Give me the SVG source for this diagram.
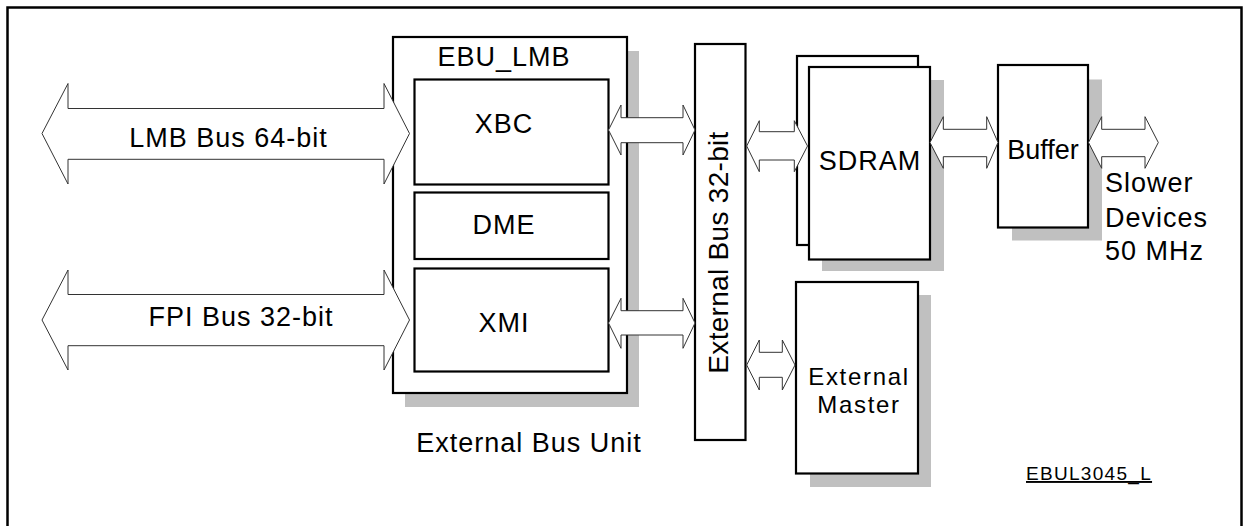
<svg xmlns="http://www.w3.org/2000/svg" width="1243" height="526" viewBox="0 0 1243 526">
<style>
.box{fill:#fff;stroke:#000;stroke-width:2.2}
.shadow{fill:#c0c0c0;stroke:none}
.arr{fill:#fff;stroke:#333;stroke-width:1}
text{font-family:"Liberation Sans",Arial,sans-serif;font-size:27px;fill:#000;letter-spacing:1px}
.c{text-anchor:middle}
.m{font-size:24px;letter-spacing:1.7px}
</style>
<rect x="0" y="0" width="1243" height="526" fill="#fff"/>
<rect id="frame" x="7.5" y="7.5" width="1234" height="530" fill="none" stroke="#000" stroke-width="2.5"/>

<g id="ebu">
<rect class="shadow" x="405" y="51" width="234" height="356"/>
<rect class="box" x="393" y="37" width="234" height="356"/>
<text class="c" x="504" y="65.5">EBU_LMB</text>
<text class="c" x="529" y="451.5">External Bus Unit</text>
</g>
<g id="xbc">
<rect class="box" x="414.5" y="79.5" width="194" height="105"/>
<text class="c" x="504" y="132.5">XBC</text>
</g>
<g id="dme">
<rect class="box" x="414.5" y="192.5" width="194" height="66.5"/>
<text class="c" x="504" y="234">DME</text>
</g>
<g id="xmi">
<rect class="box" x="414.5" y="268.5" width="194" height="103"/>
<text class="c" x="504" y="331.5">XMI</text>
</g>
<g id="extbus">
<rect class="box" x="695" y="44" width="50.5" height="396"/>
<text class="c" transform="translate(727.5,252.5) rotate(-90)" style="font-size:28px;letter-spacing:0.3px">External Bus 32-bit</text>
</g>
<g id="sdram">
<rect class="box" x="797" y="56" width="121" height="189"/>
<rect class="shadow" x="822" y="80" width="122" height="191"/>
<rect class="box" x="809" y="67" width="121" height="192.5"/>
<text class="c" x="870" y="169.5">SDRAM</text>
</g>
<g id="buffer">
<rect class="shadow" x="1012" y="79.5" width="90" height="161"/>
<rect class="box" x="998" y="65" width="90" height="162.5"/>
<text class="c" x="1043" y="158.5" style="letter-spacing:0">Buffer</text>
</g>
<g id="extmaster">
<rect class="shadow" x="810" y="295" width="121" height="192"/>
<rect class="box" x="796" y="282" width="122" height="191.5"/>
<text class="c m" x="859" y="385">External</text>
<text class="c m" x="859" y="413">Master</text>
</g>
<g id="slower">
<text x="1105" y="191.5">Slower</text>
<text x="1105" y="226.5">Devices</text>
<text x="1105" y="259.5">50 MHz</text>
</g>
<g id="connectors">
<polygon class="arr" points="42,133.5 68,83.5 68,108.5 384,108.5 384,83.5 409.5,133.5 384,184 384,159.3 68,159.3 68,184"/>
<polygon class="arr" points="42,320 68,270 68,294.5 384,294.5 384,270 409.5,320 384,370 384,345.7 68,345.7 68,370"/>
<polygon class="arr" points="608.5,130 621,105 621,117.7 683,117.7 683,105 695,130 683,155 683,142.7 621,142.7 621,155"/>
<polygon class="arr" points="608.5,323 621,298.3 621,310.7 683,310.7 683,298.3 695,323 683,348.3 683,335 621,335 621,348.3"/>
<polygon class="arr" points="746.7,146 759.3,120.7 759.3,131.7 794.3,131.7 794.3,120.7 807.5,146 794.3,171.7 794.3,160 759.3,160 759.3,171.7"/>
<polygon class="arr" points="930,142.5 943.3,116.7 943.3,129.3 986.7,129.3 986.7,116.7 998,142.5 986.7,168.3 986.7,156.7 943.3,156.7 943.3,168.3"/>
<polygon class="arr" points="1088.5,142.5 1101.7,116.7 1101.7,129.3 1145,129.3 1145,116.7 1158.3,142.5 1145,168.3 1145,156.7 1101.7,156.7 1101.7,168.3"/>
<polygon class="arr" points="746.7,365 759.3,340 759.3,352.3 782.3,352.3 782.3,340 795,365 782.3,390 782.3,377.3 759.3,377.3 759.3,390"/>
<text class="c" x="228.5" y="147">LMB Bus 64-bit</text>
<text class="c" x="241" y="326">FPI Bus 32-bit</text>
</g>
<g id="label">
<text x="1026" y="480" style="font-size:19px;letter-spacing:1.3px;text-decoration:underline">EBUL3045_L</text>
</g>
</svg>
